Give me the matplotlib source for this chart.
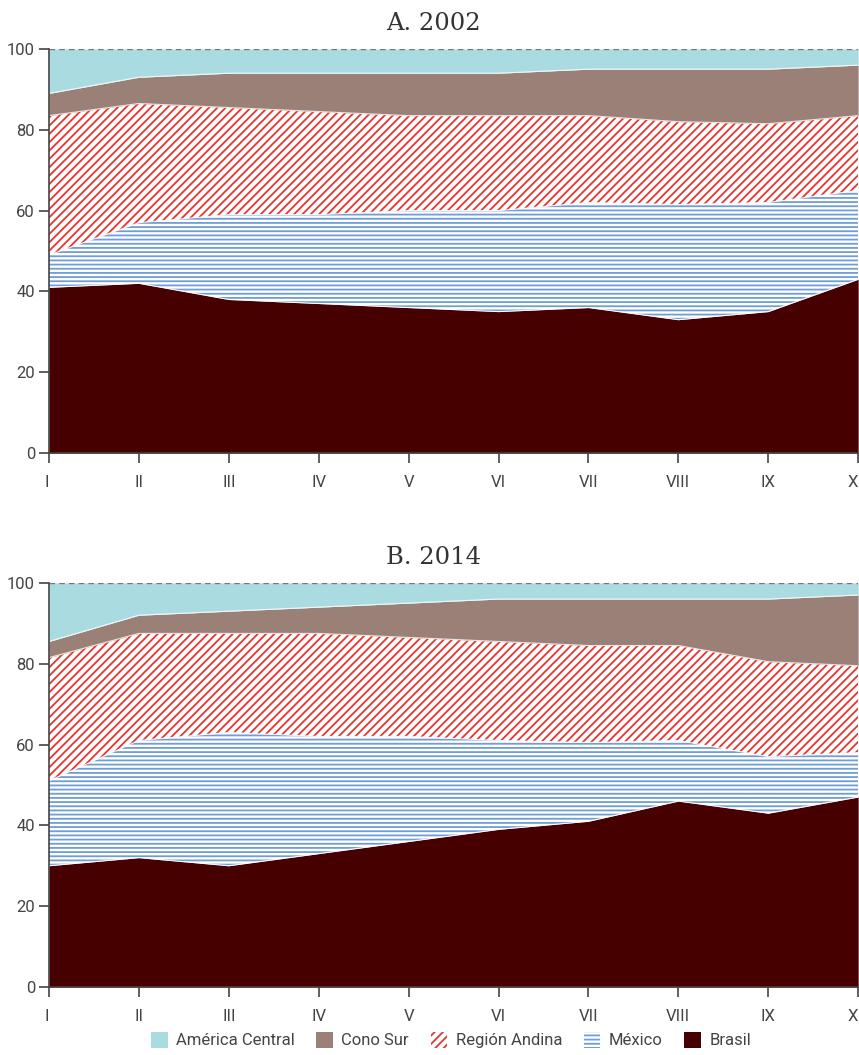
import matplotlib

matplotlib.use("Agg")
import matplotlib.pyplot as plt
import numpy as np
from matplotlib.patches import Patch

plt.rcParams["font.family"] = ["Roboto", "DejaVu Sans"]
plt.rcParams["hatch.linewidth"] = 1.3

CATEGORIES = ["I", "II", "III", "IV", "V", "VI", "VII", "VIII", "IX", "X"]
SERIES = ["Brasil", "México", "Región Andina", "Cono Sur", "América Central"]

# porcentajes por serie (apilados hasta 100)
brasil_2002 = [41, 42, 38, 37, 36, 35, 36, 33, 35, 43]
mexico_2002 = [8, 15, 21, 22, 24, 25, 26, 28.5, 27, 22]
andina_2002 = [34.5, 29.5, 26.5, 25.5, 23.5, 23.5, 21.5, 20.5, 19.5, 18.5]
conosur_2002 = [5.5, 6.5, 8.5, 9.5, 10.5, 10.5, 11.5, 13, 13.5, 12.5]
central_2002 = [11, 7, 6, 6, 6, 6, 5, 5, 5, 4]

brasil_2014 = [30, 32, 30, 33, 36, 39, 41, 46, 43, 47]
mexico_2014 = [21, 29, 33, 29, 26, 22, 19.5, 15, 14, 11]
andina_2014 = [30.5, 26.5, 24.5, 25.5, 24.5, 24.5, 24, 23.5, 23.5, 21.5]
conosur_2014 = [4, 4.5, 5.5, 6.5, 8.5, 10.5, 11.5, 11.5, 15.5, 17.5]
central_2014 = [14.5, 8, 7, 6, 5, 4, 4, 4, 4, 3]

PANELS = [
    ("A. 2002", [brasil_2002, mexico_2002, andina_2002, conosur_2002, central_2002]),
    ("B. 2014", [brasil_2014, mexico_2014, andina_2014, conosur_2014, central_2014]),
]

STYLES = {
    "Brasil": dict(facecolor="#460000", edgecolor="#460000", hatch=None),
    "México": dict(facecolor="white", edgecolor="#6f9dd8", hatch="----"),
    "Región Andina": dict(facecolor="white", edgecolor="#e8342f", hatch="////"),
    "Cono Sur": dict(facecolor="#9b8078", edgecolor="#9b8078", hatch=None),
    "América Central": dict(facecolor="#a9dbe1", edgecolor="#a9dbe1", hatch=None),
}

fig = plt.figure(figsize=(8.59, 10.55), dpi=100)
axes = [
    fig.add_axes([0.057, 0.5706, 0.942, 0.383]),
    fig.add_axes([0.057, 0.0645, 0.942, 0.383]),
]

x = np.arange(len(CATEGORIES))
for ax, (title, values) in zip(axes, PANELS):
    base = np.zeros(len(x))
    tops = []
    for name, vals in zip(SERIES, values):
        top = base + np.array(vals, dtype=float)
        st = STYLES[name]
        ax.fill_between(x, base, top, facecolor=st["facecolor"],
                        edgecolor=st["edgecolor"], hatch=st["hatch"],
                        linewidth=0)
        tops.append(top)
        base = top
    for top in tops[:-1]:
        ax.plot(x, top, color="white", lw=0.8, alpha=0.8)
    ax.axhline(100, color="#777777", lw=1, ls=(0, (4, 3)))

    ax.set_xlim(0, 9)
    ax.set_ylim(0, 100)
    ax.set_xticks(x, CATEGORIES)
    ax.get_xticklabels()[-1].set_horizontalalignment("right")
    ax.get_xticklabels()[0].set_horizontalalignment("right")
    ax.set_yticks(range(0, 101, 20))
    ax.tick_params(axis="both", colors="#444444", labelsize=12, length=7,
                   width=1.2, direction="out")
    ax.tick_params(axis="x", pad=9)
    ax.tick_params(axis="y", pad=3)
    for s in ("top", "right"):
        ax.spines[s].set_visible(False)
    for s in ("left", "bottom"):
        ax.spines[s].set_color("#444444")
        ax.spines[s].set_linewidth(1.2)

    # título centrado en la figura, no en el eje
    top_fig = ax.get_position().y1
    fig.text(0.505, top_fig + 14 / 1055, title, family="DejaVu Serif",
             fontsize=17.5, color="#333333", ha="center", va="bottom")

handles = [
    Patch(label=name, linewidth=0, **STYLES[name])
    for name in reversed(SERIES)
]
fig.legend(handles=handles, loc="lower center", ncol=5, frameon=False,
           fontsize=12, bbox_to_anchor=(0.525, -0.008), handlelength=1.0,
           handleheight=1.1, columnspacing=1.3, handletextpad=0.5,
           labelcolor="#444444")

fig.savefig("out.png", dpi=100)
